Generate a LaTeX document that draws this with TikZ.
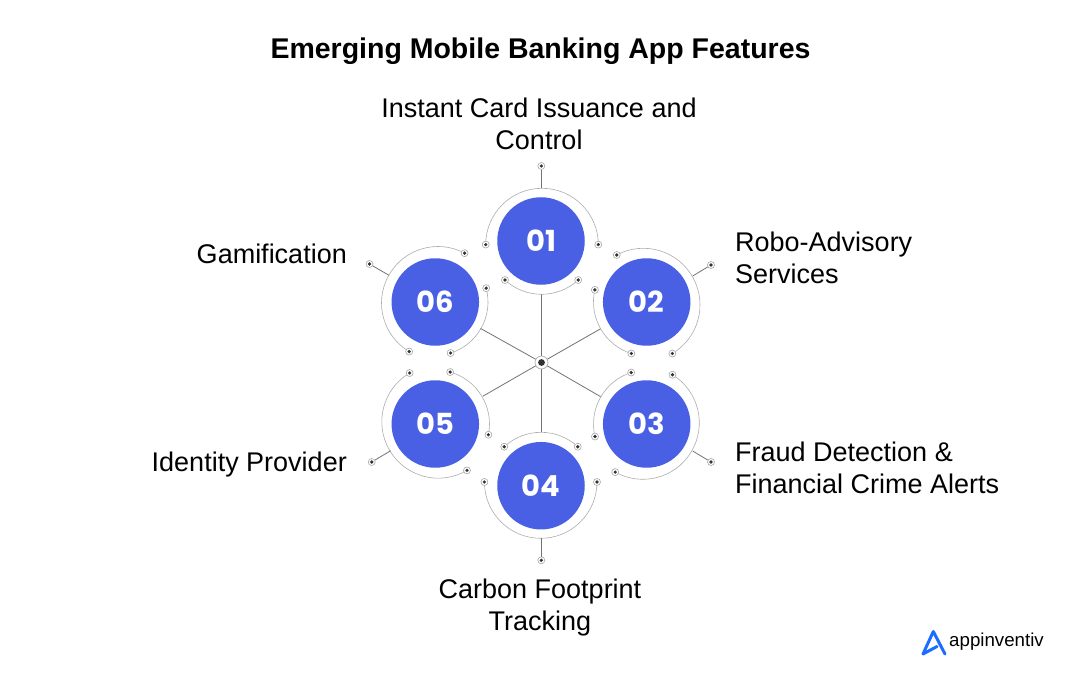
\documentclass[tikz,border=0pt]{standalone}
\usepackage{fontspec}
\setmainfont{Liberation Sans}
\newfontfamily\numfont{Poppins}
\definecolor{numblue}{HTML}{4A60E4}
\definecolor{logoblue}{HTML}{1A6DFF}
\definecolor{pindark}{HTML}{333333}
\tikzset{
  headline/.style={font=\fontsize{28.5}{32}\selectfont\bfseries,text=black},
  feature/.style={font=\fontsize{27}{32}\selectfont,text=black,inner sep=0pt},
  numdisc/.style={circle,fill=numblue,text=white,minimum size=87.5pt,inner sep=0pt,font=\numfont\fontsize{29}{29}\selectfont\bfseries},
  ring/.style={draw=gray!65,line width=0.6pt},
  spoke/.style={draw=gray!90!black,line width=0.8pt},
  pin/.style={circle,draw=gray!70,fill=white,line width=0.6pt,minimum size=7pt,inner sep=0pt,
    path picture={\fill[pindark] (path picture bounding box.center) circle (1.8pt);}}
}
\begin{document}
\begin{tikzpicture}[x=1pt,y=-1pt]
  \useasboundingbox (0,0) rectangle (1080,682);
  % title
  \node[headline] (title) at (540.5,51.5) {Emerging Mobile Banking App Features};
  % hub and spokes
  \node[pin,minimum size=13pt,path picture={\fill[pindark] (path picture bounding box.center) circle (3.4pt);}] (hub) at (541.5,362.5) {};
  \coordinate (s1) at (541.5,294.3);
  \coordinate (s2) at (600.7,328.7);
  \coordinate (s3) at (600.7,396.7);
  \coordinate (s4) at (541.5,432.3);
  \coordinate (s5) at (482.7,396.3);
  \coordinate (s6) at (480.3,328.3);
  \foreach \i in {1,...,6}
    \draw[spoke] (hub) -- (s\i);
  % numbered discs
  \node[numdisc] (num1) at (541,241) {01};
  \node[numdisc] (num2) at (646.7,302) {02};
  \node[numdisc] (num3) at (646.7,424) {03};
  \node[numdisc] (num4) at (541,485.7) {04};
  \node[numdisc] (num5) at (435.3,424) {05};
  \node[numdisc] (num6) at (435.3,302) {06};
  % rings, two arcs round each disc
  \foreach \nm/\cx/\cy/\rad/\sa/\ea in {
    oa/542/244.6/56.3/0/180, ob/541.6/240.2/54.1/227.4/312.6,
    ta/643.4/304.9/56.6/118.1/-59.2, tb/647.5/302/54/167/252.6,
    ra/642.8/422.8/56.5/58.3/-119.2, rb/647.5/424/54/107.6/193.4,
    fa/541/486.3/54/47.1/132.9, fb/540.7/482/56.3/180/360,
    va/438.3/421.7/56.5/120.5/300.5, vb/435.5/424/54/74.2/-11.5,
    xa/438/303/56.5/61.9/239.3, xb/434.5/302/53.5/-72.5/15}{
    \draw[ring] (\cx,\cy) ++(\sa:\rad pt) arc[start angle=\sa,end angle=\ea,radius=\rad pt];
    \path (\cx,\cy) ++(\sa:\rad pt) node[pin] (\nm1) {};
    \path (\cx,\cy) ++(\ea:\rad pt) node[pin] (\nm2) {};
  }
  % leaders
  \node[pin] (t1) at (541.3,166) {};
  \node[pin] (t2) at (711,265) {};
  \node[pin] (t3) at (711,462) {};
  \node[pin] (t4) at (541.3,560.3) {};
  \node[pin] (t5) at (371.7,462) {};
  \node[pin] (t6) at (369.5,264) {};
  \coordinate (e1) at (541.3,188.3);
  \coordinate (e2) at (692.7,276);
  \coordinate (e3) at (692.7,451);
  \coordinate (e4) at (541.3,538.3);
  \coordinate (e5) at (390.7,450.7);
  \coordinate (e6) at (389,275.3);
  \foreach \i in {1,...,6}
    \draw[spoke] (t\i) -- (e\i);
  % labels
  \node[feature,align=center] (lab1) at (539,124) {Instant Card Issuance and\\Control};
  \node[feature,align=left,anchor=west] (lab2) at (735,258) {Robo-Advisory\\Services};
  \node[feature,align=left,anchor=west] (lab3) at (735,468) {Fraud Detection \&\\Financial Crime Alerts};
  \node[feature,align=center] (lab4) at (540,608) {Carbon Footprint\\Tracking};
  \node[feature,anchor=east] (lab5) at (347,465) {Identity Provider};
  \node[feature,anchor=east] (lab6) at (347,254) {Gamification};
  % logo
  \coordinate (lg1) at (945,654);
  \coordinate (lg2) at (933.3,631.5);
  \coordinate (lg3) at (923,654);
  \coordinate (lg4) at (937,646.5);
  \draw[logoblue,line width=3pt,line cap=round,line join=round] (lg1) -- (lg2) -- (lg3) -- (lg4);
  \node[anchor=west,inner sep=0pt,font=\fontsize{18.7}{20}\selectfont] (brand) at (949,641.5) {appinventiv};
\end{tikzpicture}
\end{document}
